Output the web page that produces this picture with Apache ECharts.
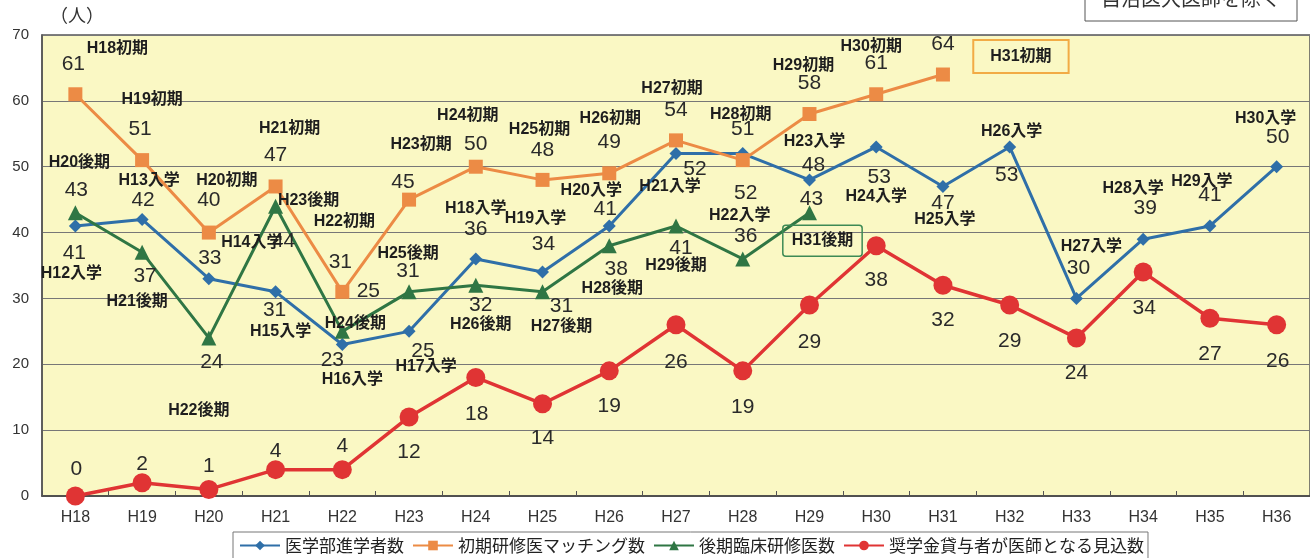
<!DOCTYPE html>
<html>
<head>
<meta charset="utf-8">
<script src="https://cdn.jsdelivr.net/npm/echarts@6/dist/echarts.min.js"></script>
<style>
html,body{margin:0;padding:0;background:#fff;}
#chart{width:1310px;height:558px;}
</style>
</head>
<body>
<div id="chart"></div>
<script>
// ---- data ----
const categories = ['H18','H19','H20','H21','H22','H23','H24','H25','H26','H27','H28','H29','H30','H31','H32','H33','H34','H35','H36'];
const yTicks = [0,10,20,30,40,50,60,70];

const admissions = [41,42,33,31,23,25,36,34,41,52,52,48,53,47,53,30,39,41,50];
const admissionNames = ['H12入学','H13入学','H14入学','H15入学','H16入学','H17入学','H18入学','H19入学','H20入学','H21入学','H22入学','H23入学','H24入学','H25入学','H26入学','H27入学','H28入学','H29入学','H30入学'];

const matching = [61,51,40,47,31,45,50,48,49,54,51,58,61,64];
const matchingNames = ['H18初期','H19初期','H20初期','H21初期','H22初期','H23初期','H24初期','H25初期','H26初期','H27初期','H28初期','H29初期','H30初期','H31初期'];

const lateResidents = [43,37,24,44,25,31,32,31,38,41,36,43];
const lateNames = ['H20後期','H21後期','H22後期','H23後期','H24後期','H25後期','H26後期','H27後期','H28後期','H29後期','','H31後期'];

const scholarship = [0,2,1,4,4,12,18,14,19,26,19,29,38,32,29,24,34,27,26];

const seriesNames = ['医学部進学者数','初期研修医マッチング数','後期臨床研修医数','奨学金貸与者が医師となる見込数'];

// ---- label placement (styling only) ----
const admValOff = [[-1,27],[1,-19],[1,-20],[-1,18],[-10,16],[14,20],[0,-30],[1,-28],[-4,-17],[19,16],[3,40],[4,-15],[3,30],[0,17],[-3,28],[2,-30],[2,-31],[0,-31],[1,-30]];
const admNameOff = [[-4,48],[7,-39],[43,-36],[5,40],[10,35],[17,35],[0,-50],[-7,-53],[-18,-35],[-6,33],[-3,62],[5,-38],[0,50],[2,33],[2,-15],[15,-52],[-10,-51],[-8,-44],[-11,-48]];
const matValOff = [[-2,-30],[-2,-31],[0,-32],[0,-31],[-2,-30],[-6,-17],[0,-23],[0,-30],[0,-31],[0,-30],[0,-31],[0,-31],[0,-31],[0,-30]];
const matNameOff = [[42,-46],[10,-61],[18,-52],[14,-58],[2,-70],[12,-55],[-8,-51],[-3,-50],[1,-55],[-4,-52],[-2,-46],[-6,-48],[-5,-48],[67,-17]];
const lateValOff = [[1,-23],[3,24],[3,24],[8,35],[26,-40],[-1,-21],[5,20],[19,14],[7,23],[5,22],[3,-23],[2,-14]];
const lateNameOff = [[4,-50],[-5,49],[-10,73],[33,-6],[13,-8],[-1,-38],[5,39],[19,35],[3,43],[0,40],[0,0],[13,28]];
const schValOff = [[1,-27],[0,-19],[0,-23],[0,-18],[0,-23],[0,35],[1,37],[0,34],[0,35],[0,37],[0,36],[0,37],[0,34],[0,35],[0,36],[0,35],[1,36],[0,36],[1,36]];

const colors = {blue:'#2f6fa8', orange:'#ec8b45', green:'#2f7644', red:'#e03434'};

const valueFont = {fontFamily:'Liberation Sans, Arial, sans-serif', fontSize:21, color:'#2a2a2a'};
const nameFont = {fontFamily:'Liberation Sans, "Noto Sans CJK JP", sans-serif', fontSize:16, fontWeight:'bold', color:'#1e1e1e'};

function valData(vals, offs){
  return vals.map((v,i)=>({value:v, label:{offset:offs[i]}}));
}
function nameData(vals, names, offs, extra){
  return vals.map((v,i)=>{
    const lab = {offset:offs[i], formatter:names[i]};
    if (extra && extra[i]) Object.assign(lab, extra[i]);
    return {value:v, label:lab};
  });
}

function mainSeries(name, data, color, symbol, size, offs){
  return {
    name: name, type:'line', data: valData(data, offs),
    symbol: symbol, symbolSize: size, showSymbol:true,
    lineStyle:{color:color, width:3},
    itemStyle:{color:color, opacity:1},
    label:Object.assign({show:true, position:'inside', align:'center', verticalAlign:'middle', formatter:'{c}', textBorderWidth:0}, valueFont),
    z:3
  };
}
function nameSeries(id, data, names, offs, extra){
  return {
    name:id, type:'line', data:nameData(data, names, offs, extra),
    symbol:'circle', symbolSize:1, showSymbol:true,
    itemStyle:{color:'#1e1e1e', opacity:0},
    lineStyle:{width:0, opacity:0},
    label:Object.assign({show:true, position:'inside', align:'center', verticalAlign:'middle', opacity:1, textBorderWidth:0}, nameFont),
    z:6, silent:true
  };
}

const matExtra = [];
matExtra[13] = {borderColor:'#f2ab45', borderWidth:2, padding:[9,17,8,17], offset:[78,-18]};
const lateExtra = [];
lateExtra[11] = {borderColor:'#3d8a55', borderWidth:1.5, borderRadius:3, padding:[8,9,7,9]};

const chart = echarts.init(document.getElementById('chart'), null, {renderer:'canvas'});
chart.setOption({
  animation:false,
  backgroundColor:'#ffffff',
  grid:{left:42, top:35, width:1283, height:461, show:true, backgroundColor:'#faf8c4', borderColor:'#555', borderWidth:1.5},
  legend:{
    data:seriesNames, left:233, top:532, orient:'horizontal',
    itemWidth:40, itemHeight:12, itemGap:8,
    padding:[5,4,10,6], borderColor:'#777', borderWidth:1, backgroundColor:'#fff',
    textStyle:{fontFamily:'"Noto Sans CJK JP", sans-serif', fontSize:17, color:'#222'}
  },
  xAxis:{
    type:'category', data:categories, boundaryGap:true,
    axisLine:{lineStyle:{color:'#444', width:1.5}},
    axisTick:{show:true, inside:true, length:5, lineStyle:{color:'#555'}},
    axisLabel:{margin:14, fontFamily:'Liberation Sans, Arial, sans-serif', fontSize:16, color:'#333'}
  },
  yAxis:{
    type:'value', min:yTicks[0], max:yTicks[yTicks.length-1], interval:10,
    axisLine:{show:true, lineStyle:{color:'#555', width:1.5}},
    axisTick:{show:false},
    splitLine:{lineStyle:{color:'#777', width:1}},
    axisLabel:{margin:13, fontFamily:'Liberation Sans, Arial, sans-serif', fontSize:15, color:'#333'}
  },
  graphic:[
    {type:'text', left:50, top:6, style:{text:'（人）', font:'18px "Noto Sans CJK JP", sans-serif', fill:'#333'}},
    {type:'rect', shape:{x:1085, y:-20, width:212, height:41}, style:{fill:'#fff', stroke:'#555', lineWidth:1}},
    {type:'text', x:1191, y:-2, style:{text:'自治医大医師を除く', font:'20px "Noto Sans CJK JP", sans-serif', fill:'#333', textAlign:'center', textVerticalAlign:'middle'}}
  ],
  series:[
    mainSeries(seriesNames[0], admissions, colors.blue, 'diamond', 13, admValOff),
    mainSeries(seriesNames[1], matching, colors.orange, 'rect', 14, matValOff),
    mainSeries(seriesNames[2], lateResidents, colors.green, 'triangle', 15, lateValOff),
    Object.assign(mainSeries(seriesNames[3], scholarship, colors.red, 'circle', 19, schValOff), {lineStyle:{color:colors.red, width:3.5}}),
    nameSeries('adm-names', admissions, admissionNames, admNameOff),
    nameSeries('mat-names', matching, matchingNames, matNameOff, matExtra),
    nameSeries('late-names', lateResidents, lateNames, lateNameOff, lateExtra)
  ]
});
</script>
</body>
</html>
